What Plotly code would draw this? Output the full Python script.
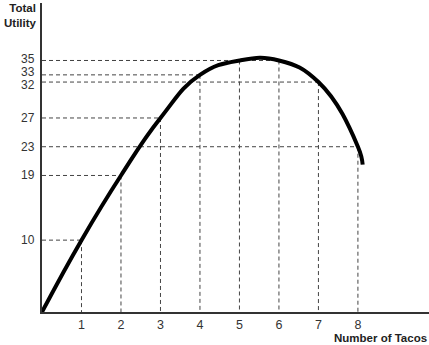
import plotly.graph_objects as go

tacos = [1, 2, 3, 4, 5, 6, 7, 8]
utility = [10, 19, 27, 33, 35, 35, 32, 23]
y_labels = [10, 19, 23, 27, 32, 33, 35]
curve_x = [0, 1, 2, 3, 4, 5, 6, 7, 8, 8.12]
curve_y = [0, 10, 19, 27, 33, 35, 35, 32, 23, 20.5]

FONT = "Liberation Sans, Arial, sans-serif"

fig = go.Figure()

# dashed guide lines
gx, gy = [], []
for x, y in zip(tacos, utility):
    gx += [0, x, None, x, x, None]
    gy += [y, y, None, y, 0, None]
fig.add_trace(go.Scatter(x=gx, y=gy, mode="lines",
                         line=dict(color="#444", width=1, dash="4px,3px"),
                         hoverinfo="skip", showlegend=False))

fig.add_trace(go.Scatter(x=curve_x, y=curve_y, mode="lines",
                         line=dict(color="black", width=4, shape="spline", smoothing=1.3),
                         showlegend=False))

shifts = {35: 1, 33: 3, 32: -3}
annotations = []
for v in y_labels:
    annotations.append(dict(text=str(v), xref="paper", yref="y", x=0, y=v,
                            xanchor="right", yanchor="middle", xshift=-5,
                            yshift=shifts.get(v, 0), showarrow=False,
                            font=dict(family=FONT, size=12, color="#333")))
annotations += [
    dict(text="<b>Total<br>Utility</b>", xref="paper", yref="paper", x=0, y=1.0,
         xanchor="right", yanchor="top", xshift=-3, yshift=3, showarrow=False, align="right",
         font=dict(family=FONT, size=11.5, color="#222")),
    dict(text="<b>Number of Tacos</b>", xref="paper", yref="paper", x=1, y=0,
         xanchor="right", yanchor="top", yshift=-18, showarrow=False,
         font=dict(family=FONT, size=11.5, color="#222")),
]

fig.update_layout(
    width=429, height=345,
    margin=dict(l=42, r=0, t=3, b=33),
    plot_bgcolor="white", paper_bgcolor="white",
    font=dict(family=FONT, size=12, color="#333"),
    xaxis=dict(range=[0, 9.8], tickvals=tacos, ticktext=[str(t) for t in tacos],
               showgrid=False, zeroline=False, showline=True, linecolor="#333",
               linewidth=2, ticks="", tickfont=dict(family=FONT, size=12.5, color="#333")),
    yaxis=dict(range=[0, 43], showticklabels=False,
               showgrid=False, zeroline=False, showline=True, linecolor="#333",
               linewidth=2, ticks=""),
    annotations=annotations,
)

fig.write_html("out.html")
